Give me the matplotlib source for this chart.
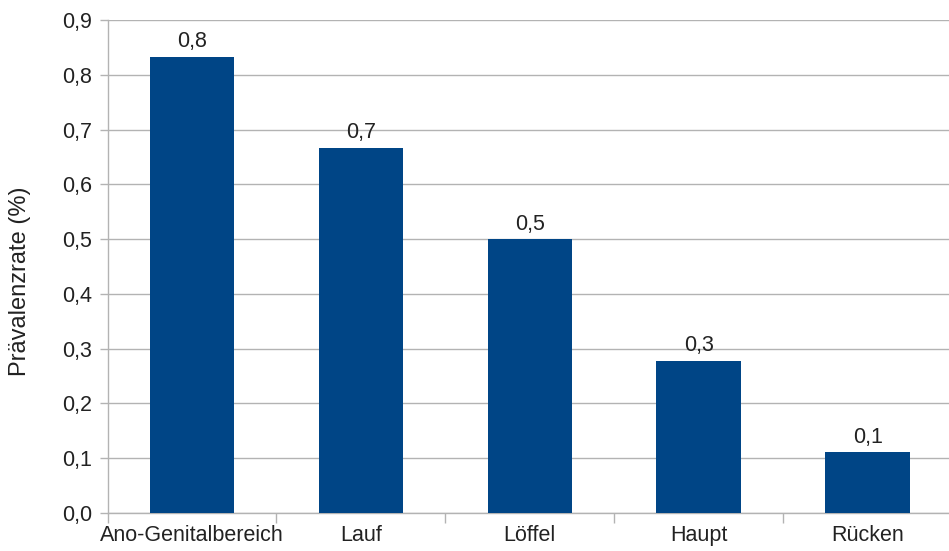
import numpy as np
import matplotlib.pyplot as plt

plt.rcParams['font.family'] = ['Liberation Sans', 'DejaVu Sans']

categories = ['Ano-Genitalbereich', 'Lauf', 'Löffel', 'Haupt', 'Rücken']
values = [0.833, 0.667, 0.5, 0.278, 0.111]
yticks = [0.0, 0.1, 0.2, 0.3, 0.4, 0.5, 0.6, 0.7, 0.8, 0.9]

fig = plt.figure(figsize=(9.49, 5.51), dpi=100)
ax = fig.add_axes([0.1133, 0.069, 0.8899, 0.8945])

x = np.arange(len(categories))
bars = ax.bar(x, values, width=0.5, color='#004586', zorder=3)

for xi, v in zip(x, values):
    ax.text(xi, v + 0.008, f'{v:.1f}'.replace('.', ','), ha='center', va='bottom',
            fontsize=15.5, color='#222222')

ax.set_xlim(-0.5, len(categories) - 0.5)
ax.set_ylim(0, 0.9)
ax.set_yticks(yticks)
ax.set_yticklabels([f'{t:.1f}'.replace('.', ',') for t in yticks], fontsize=15.5, color='#222222')
ax.set_xticks(x)
ax.set_xticklabels(categories, fontsize=15.5, color='#222222')
ax.set_xticks(np.arange(-0.5, len(categories)), minor=True)
ax.tick_params(axis='x', which='major', length=0, pad=9)
ax.tick_params(axis='x', which='minor', length=7, color='#b3b3b3', width=1)
ax.tick_params(axis='y', length=6, color='#b3b3b3', width=1, pad=5)

ax.grid(axis='y', color='#b3b3b3', linewidth=1, zorder=0)
for s in ['top', 'right']:
    ax.spines[s].set_visible(False)
for s in ['left', 'bottom']:
    ax.spines[s].set_color('#b3b3b3')
    ax.spines[s].set_linewidth(1)

ax.set_ylabel('Prävalenzrate (%)', fontsize=17, color='#222222')
ax.yaxis.set_label_coords(-0.091, 0.47)

fig.savefig('out.png', dpi=100)
